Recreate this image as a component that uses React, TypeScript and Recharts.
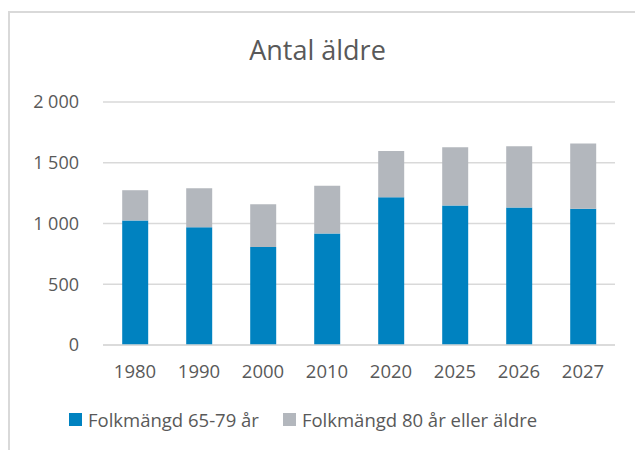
import { BarChart, Bar, XAxis, YAxis, CartesianGrid } from "recharts";

const years = ["1980", "1990", "2000", "2010", "2020", "2025", "2026", "2027"];
const age65to79 = [1025, 970, 806, 918, 1217, 1148, 1132, 1121];
const age80plus = [249, 320, 353, 392, 380, 480, 504, 537];
const yTicks = [0, 500, 1000, 1500, 2000];

const BLUE = "#0082c0";
const GRAY = "#b3b7bd";
const TEXT = "#595959";
const FONT = "'Open Sans', 'Noto Sans', sans-serif";

const series = [
  { key: "a", name: "Folkmängd 65-79 år", color: BLUE },
  { key: "b", name: "Folkmängd 80 år eller äldre", color: GRAY },
];

const data = years.map((year, i) => ({
  year,
  a: age65to79[i],
  b: age80plus[i],
}));

const fmt = (v: number) => String(v).replace(/\B(?=(\d{3})+(?!\d))/g, " ");

export default function App() {
  return (
    <div
      style={{
        position: "fixed",
        left: 0,
        top: 0,
        width: 635,
        height: 450,
        overflow: "hidden",
        background: "#fff",
        fontFamily: FONT,
      }}
    >
      <div
        style={{
          position: "absolute",
          left: 8,
          top: 11,
          width: 700,
          height: 500,
          border: "2px solid #d9d9d9",
        }}
      />
      <div
        style={{
          position: "absolute",
          left: 0,
          top: 31,
          width: 635,
          textAlign: "center",
          fontSize: 27,
          color: TEXT,
        }}
      >
        Antal äldre
      </div>
      <div style={{ position: "absolute", left: 0, top: 0 }}>
        <BarChart
          width={635}
          height={450}
          data={data}
          barCategoryGap="30%"
          margin={{ top: 102, right: 20, bottom: 75, left: 0 }}
        >
          <CartesianGrid vertical={false} stroke="#d9d9d9" strokeWidth={1.5} />
          <XAxis
            dataKey="year"
            axisLine={{ stroke: "#d9d9d9", strokeWidth: 1.5 }}
            tickLine={false}
            height={30}
            tick={{ fill: TEXT, fontSize: 18.5, fontFamily: FONT }}
            tickMargin={14}
          />
          <YAxis
            width={103}
            domain={[0, 2000]}
            ticks={yTicks}
            axisLine={false}
            tickLine={false}
            tickFormatter={fmt}
            tickMargin={18}
            tick={{ fill: TEXT, fontSize: 18, fontFamily: FONT }}
          />
          {series.map((s) => (
            <Bar
              key={s.key}
              dataKey={s.key}
              name={s.name}
              stackId="s"
              fill={s.color}
              isAnimationActive={false}
            />
          ))}
        </BarChart>
      </div>
      <div
        style={{
          position: "absolute",
          left: 69,
          top: 407,
          display: "flex",
          alignItems: "center",
          fontSize: 18.5,
          color: TEXT,
          whiteSpace: "nowrap",
        }}
      >
        {series.map((s, i) => (
          <div
            key={s.key}
            style={{ display: "flex", alignItems: "center", marginRight: i === 0 ? 24 : 0 }}
          >
            <span
              style={{
                display: "inline-block",
                width: 13,
                height: 13,
                background: s.color,
                marginRight: 6,
              }}
            />
            <span>{s.name}</span>
          </div>
        ))}
      </div>
    </div>
  );
}
